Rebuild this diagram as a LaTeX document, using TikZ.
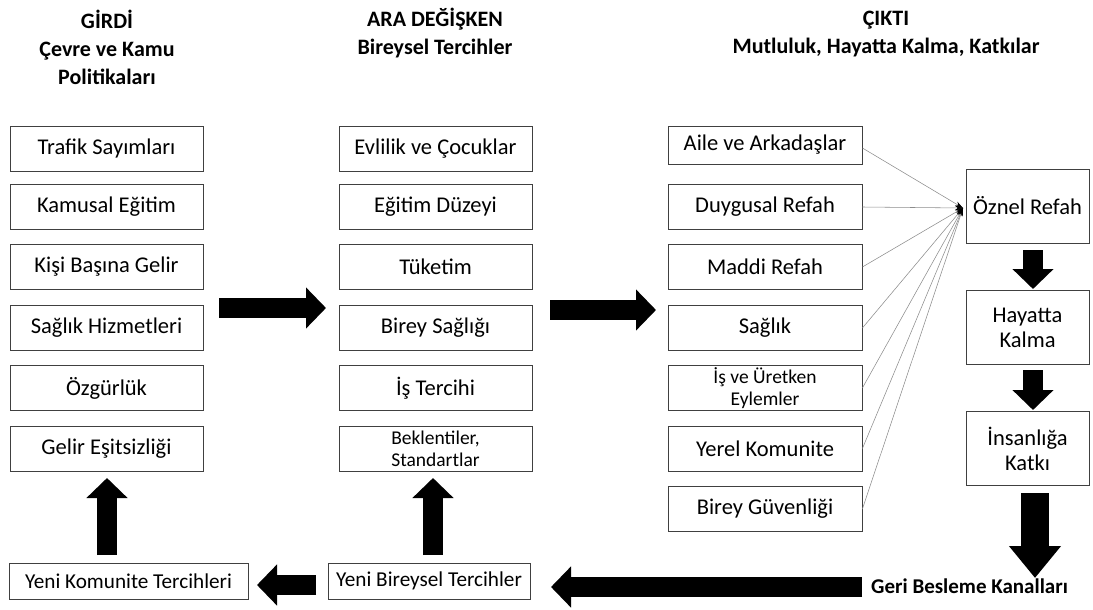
\documentclass[tikz,border=0pt]{standalone}
\usepackage{fontspec}
\setmainfont{Carlito}
\usetikzlibrary{arrows.meta}
\begin{document}
\begin{tikzpicture}[x=1pt,y=-1pt,
  box/.style={draw=black!75, line width=0.8pt, minimum width=193pt, minimum height=45pt, inner sep=0pt, align=center, font=\fontsize{22.5}{25}\selectfont},
  smalltext/.style={font=\fontsize{19.5}{22}\selectfont},
  bottomtext/.style={font=\fontsize{21.2}{25}\selectfont},
  rbox/.style={box, minimum width=123pt, minimum height=74pt},
  head/.style={font=\bfseries\fontsize{22}{28}\selectfont, align=center, inner sep=0pt},
  spoke/.style={draw=black!45, line width=0.55pt, -{Stealth[length=8pt,width=5pt,black]}},
  bigarrow/.style={line width=20pt, -{Triangle[length=20pt,width=40pt]}},
  bigarrowlong/.style={line width=28pt, -{Triangle[length=32pt,width=50pt]}}]
\useasboundingbox (0,0) rectangle (1093,610);
% headers
\node[head] (h1) at (107,47) {GİRDİ\\Çevre ve Kamu\\Politikaları};
\node[head] (h2) at (435,33) {ARA DEĞİŞKEN\\Bireysel Tercihler};
\node[head] (h3) at (886,34) {ÇIKTI\\Mutluluk, Hayatta Kalma, Katkılar};
% column 1
\node[box] (a1) at (106.5,148.5) {Trafik Sayımları};
\node[box] (a2) at (106.5,207) {Kamusal Eğitim};
\node[box] (a3) at (106.5,267) {Kişi Başına Gelir};
\node[box] (a4) at (106.5,328) {Sağlık Hizmetleri};
\node[box] (a5) at (106.5,388) {Özgürlük};
\node[box] (a6) at (106.5,448.5) {Gelir Eşitsizliği};
% column 2
\node[box] (b1) at (435.5,148.5) {Evlilik ve Çocuklar};
\node[box] (b2) at (435.5,207) {Eğitim Düzeyi};
\node[box] (b3) at (435.5,267) {Tüketim};
\node[box] (b4) at (435.5,328) {Birey Sağlığı};
\node[box] (b5) at (435.5,388) {İş Tercihi};
\node[box, smalltext] (b6) at (435.5,448.5) {Beklentiler,\\Standartlar};
% column 3
\node[box, minimum width=194pt, minimum height=38pt] (c1) at (765,145) {Aile ve Arkadaşlar};
\node[box, minimum width=194pt] (c2) at (765,207) {Duygusal Refah};
\node[box, minimum width=194pt] (c3) at (765,267) {Maddi Refah};
\node[box, minimum width=194pt] (c4) at (765,328) {Sağlık};
\node[box, minimum width=194pt, smalltext] (c5) at (765,388) {İş ve Üretken\\Eylemler};
\node[box, minimum width=194pt] (c6) at (765,448.5) {Yerel Komunite};
\node[box, minimum width=194pt] (c7) at (765,509) {Birey Güvenliği};
% right column
\node[rbox] (oz) at (1027.5,206) {Öznel Refah};
\node[rbox] (hk) at (1027.5,327.5) {Hayatta\\Kalma};
\node[rbox] (ik) at (1027.5,448.5) {İnsanlığa\\Katkı};
% bottom
\node[box, bottomtext, minimum width=239pt, minimum height=36pt] (yk) at (128.5,581) {Yeni Komunite Tercihleri};
\node[box, bottomtext, minimum width=202pt, minimum height=36pt] (yb) at (429,581) {Yeni Bireysel Tercihler};
\node[font=\bfseries\fontsize{21}{25}\selectfont, anchor=west, inner sep=0pt] (gb) at (871,586) {Geri Besleme Kanalları};
% spokes
\coordinate (conv) at (963,208);
\draw[spoke] ([yshift=-3pt]c1.east) -- (conv);
\foreach \n in {c2,c3,c4,c5,c6,c7} \draw[spoke] (\n.east) -- (conv);
% big arrows
\coordinate (r1s) at (219,308); \coordinate (r1e) at (326,308);
\coordinate (r2s) at (550,310); \coordinate (r2e) at (656,310);
\coordinate (d1s) at (1033,250); \coordinate (d1e) at (1033,289);
\coordinate (d2s) at (1033,370); \coordinate (d2e) at (1033,410);
\coordinate (d3s) at (1035,493); \coordinate (d3e) at (1035,578);
\coordinate (l1s) at (862,587); \coordinate (l1e) at (551,587);
\coordinate (l2s) at (316,585); \coordinate (l2e) at (257,585);
\coordinate (u1s) at (107,555); \coordinate (u1e) at (107,478);
\coordinate (u2s) at (433,555); \coordinate (u2e) at (433,478);
\draw[bigarrow] (r1s) -- (r1e);
\draw[bigarrow] (r2s) -- (r2e);
\draw[bigarrow] (d1s) -- (d1e);
\draw[bigarrow] (d2s) -- (d2e);
\draw[bigarrowlong] (d3s) -- (d3e);
\draw[bigarrow] (l1s) -- (l1e);
\draw[bigarrow] (l2s) -- (l2e);
\draw[bigarrow] (u1s) -- (u1e);
\draw[bigarrow] (u2s) -- (u2e);
\end{tikzpicture}
\end{document}
